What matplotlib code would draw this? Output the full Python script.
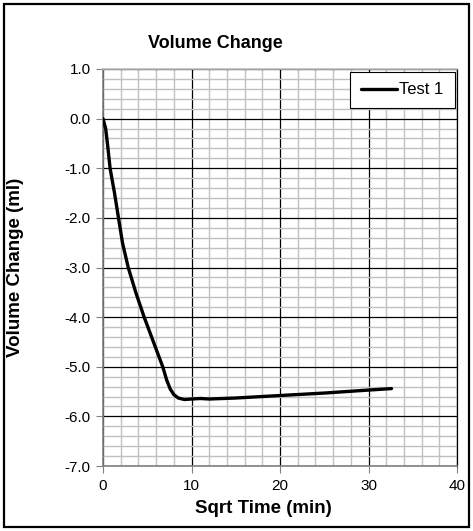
import matplotlib
matplotlib.use('Agg')
import matplotlib.pyplot as plt
from matplotlib.patches import Rectangle
from matplotlib.ticker import MultipleLocator, FormatStrFormatter

plt.rcParams['font.family'] = ['Liberation Sans', 'DejaVu Sans']

# Test 1 readings (sqrt time vs volume change)
sqrt_time = [0, 0.3, 0.5, 0.8, 1.3, 1.75, 2.2, 2.85, 3.7, 4.65, 5.7, 6.75,
             7.2, 7.6, 8.0, 8.5, 9.2, 10.0, 11.0, 12.0, 15.0, 20.0, 25.0, 30.0, 32.6]
vol_change = [0, -0.2, -0.5, -1.0, -1.5, -2.0, -2.5, -3.0, -3.5, -4.0, -4.5, -5.0,
              -5.27, -5.45, -5.56, -5.63, -5.66, -5.65, -5.64, -5.65, -5.63, -5.58,
              -5.53, -5.47, -5.44]
series_name = "Test 1"

fig = plt.figure(figsize=(4.73, 5.31), dpi=100)
ax = fig.add_axes([103/473, 65/531, 354/473, 397/531])

ax.plot(sqrt_time, vol_change, color='black', lw=2.4, label=series_name,
        solid_capstyle='round', zorder=5)

ax.set_xlim(0, 40)
ax.set_ylim(-7, 1)
ax.xaxis.set_major_locator(MultipleLocator(10))
ax.xaxis.set_minor_locator(MultipleLocator(2))
ax.yaxis.set_major_locator(MultipleLocator(1))
ax.yaxis.set_minor_locator(MultipleLocator(0.2))
ax.yaxis.set_major_formatter(FormatStrFormatter('%.1f'))

ax.grid(which='minor', color='#c0c0c0', lw=1.0)
ax.grid(which='major', color='black', lw=0.9)
ax.set_axisbelow(True)

for s in ax.spines.values():
    s.set_color('#808080')
    s.set_linewidth(1.2)
ax.spines['top'].set_color('#c0c0c0')
ax.spines['right'].set_color('black')
ax.spines['right'].set_linewidth(0.9)

ax.tick_params(which='major', direction='out', length=5, color='#808080',
               labelsize=11, pad=4)
ax.tick_params(which='minor', length=0)

ax.set_xlabel('Sqrt Time (min)', fontsize=13.5, fontweight='bold')
ax.set_ylabel('Volume Change (ml)', fontsize=13.5, fontweight='bold')
ax.xaxis.set_label_coords(0.452, -0.086)
ax.yaxis.set_label_coords(-0.222, 0.5)
fig.text(215/473, 1 - 43/531, 'Volume Change', fontsize=13, fontweight='bold',
         ha='center', va='center')

leg = ax.legend(loc='upper right', fontsize=12, handlelength=2.15,
                handletextpad=0.15, fancybox=False, framealpha=1,
                borderaxespad=0.15, borderpad=0.65)
leg.get_frame().set_edgecolor('black')
leg.get_frame().set_linewidth(0.8)

fig.patches.append(Rectangle((4/473, 4/531), 465/473, 523/531, transform=fig.transFigure,
                             fill=False, edgecolor='black', lw=1.6))

fig.savefig('out.png', dpi=100)
